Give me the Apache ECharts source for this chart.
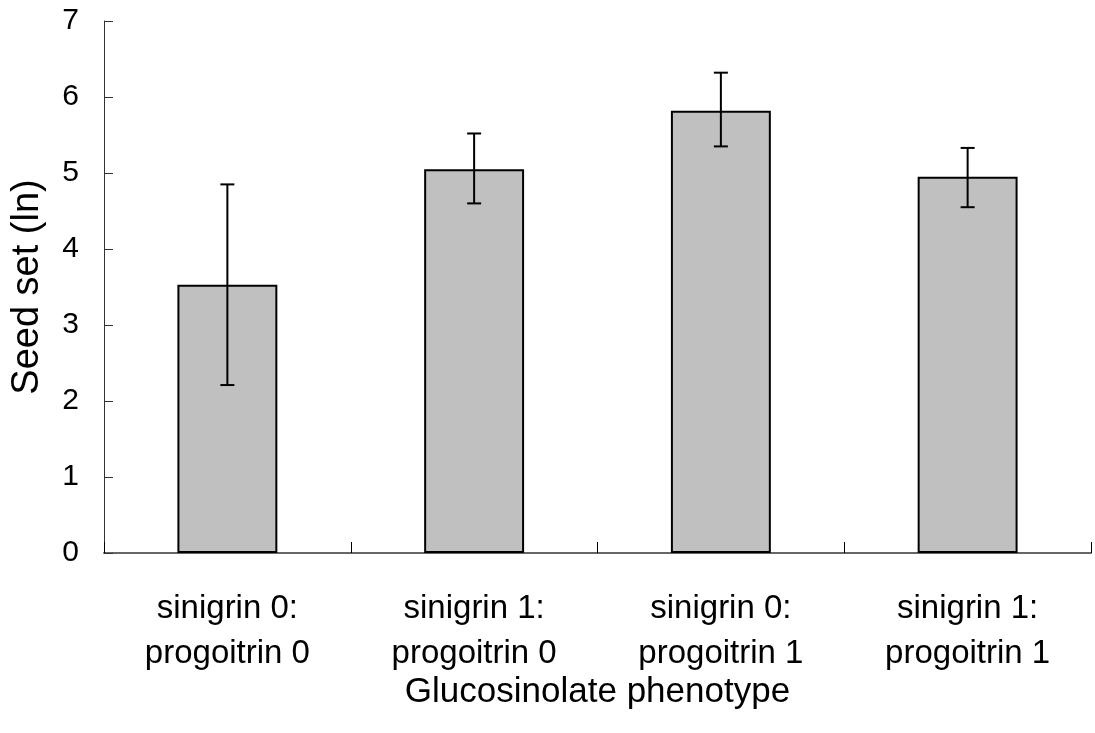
<!DOCTYPE html>
<html>
<head>
<meta charset="utf-8">
<script src="https://cdn.jsdelivr.net/npm/echarts@6/dist/echarts.min.js"></script>
<style>
  html, body { margin: 0; padding: 0; background: #fff; }
  #chart { width: 1095px; height: 733px; }
</style>
</head>
<body>
<div id="chart"></div>
<script>
// Glucosinolate phenotype groups
const categories = [
  'sinigrin 0:\nprogoitrin 0',
  'sinigrin 1:\nprogoitrin 0',
  'sinigrin 0:\nprogoitrin 1',
  'sinigrin 1:\nprogoitrin 1'
];
// Mean seed set (ln) per group
const seedSet = [3.53, 5.05, 5.82, 4.95];
// Error bar ends
const errUpper = [4.85, 5.52, 6.32, 5.33];
const errLower = [2.21, 4.60, 5.35, 4.55];
const yTicks = [0, 1, 2, 3, 4, 5, 6, 7];

const FONT = '"Liberation Sans", Arial, Helvetica, sans-serif';

const chart = echarts.init(document.getElementById('chart'), null, { renderer: 'canvas' });

const errData = categories.map((c, i) => [i, errLower[i], errUpper[i]]);

chart.setOption({
  animation: false,
  backgroundColor: '#ffffff',
  grid: { left: 104, right: 4, top: 21, bottom: 180, containLabel: false },
  xAxis: {
    type: 'category',
    data: categories,
    name: 'Glucosinolate phenotype',
    nameLocation: 'middle',
    nameGap: 122,
    nameMoveOverlap: false,
    nameTextStyle: { fontFamily: FONT, fontSize: 35, color: '#000' },
    axisLine: { show: true, lineStyle: { color: '#666', width: 2 } },
    axisTick: { show: true, inside: true, length: 11, alignWithLabel: false, lineStyle: { color: '#000', width: 1 } },
    axisLabel: {
      fontFamily: FONT, fontSize: 33, color: '#000',
      lineHeight: 45, margin: 33, interval: 0
    },
    splitLine: { show: false }
  },
  yAxis: {
    type: 'value',
    min: yTicks[0],
    max: yTicks[yTicks.length - 1],
    interval: 1,
    name: 'Seed set (ln)',
    nameLocation: 'middle',
    nameGap: 57,
    nameMoveOverlap: false,
    nameTextStyle: { fontFamily: FONT, fontSize: 38, color: '#000' },
    axisLine: { show: true, lineStyle: { color: '#333', width: 1 } },
    axisTick: { show: true, inside: true, length: 9, lineStyle: { color: '#333', width: 1 } },
    axisLabel: { fontFamily: FONT, fontSize: 30, color: '#000', margin: 25 },
    splitLine: { show: false }
  },
  series: [
    {
      type: 'bar',
      data: seedSet,
      barWidth: '40.5%',
      itemStyle: { color: '#c0c0c0', borderColor: '#000', borderWidth: 2 },
      z: 2
    },
    {
      type: 'custom',
      data: errData,
      z: 3,
      renderItem: function (params, api) {
        const x = api.value(0);
        const lo = api.coord([x, api.value(1)]);
        const hi = api.coord([x, api.value(2)]);
        const half = 7;
        const style = { stroke: '#000', lineWidth: 2 };
        return {
          type: 'group',
          children: [
            { type: 'line', shape: { x1: lo[0], y1: lo[1], x2: hi[0], y2: hi[1] }, style: style },
            { type: 'line', shape: { x1: hi[0] - half, y1: hi[1], x2: hi[0] + half, y2: hi[1] }, style: style },
            { type: 'line', shape: { x1: lo[0] - half, y1: lo[1], x2: lo[0] + half, y2: lo[1] }, style: style }
          ]
        };
      }
    }
  ]
});
</script>
</body>
</html>
